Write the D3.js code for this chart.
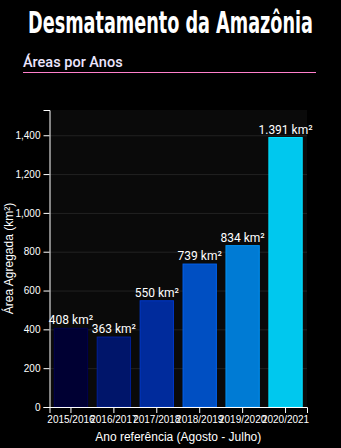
<!DOCTYPE html>
<html><head><meta charset="utf-8">
<script src="https://cdn.jsdelivr.net/npm/d3@7"></script>
<style>
html,body{margin:0;padding:0;background:#000;}
svg{display:block;}
</style></head>
<body>
<script>
const categories = ["2015/2016","2016/2017","2017/2018","2018/2019","2019/2020","2020/2021"];
const values = [408, 363, 550, 739, 834, 1391];
const fills = ["#000033","#00156a","#002b9c","#004fc2","#007bd4","#00c8ee"];
const strokes = ["#000050","#00209a","#0038c8","#0062f0","#0092f4","#00e0ff"];
const yTicks = [0,200,400,600,800,1000,1200,1400];

const W = 341, H = 448;
const m = {left: 49.5, right: 34, top: 110, bottom: 41};
const svg = d3.select("body").append("svg").attr("width", W).attr("height", H);
svg.append("rect").attr("width", W).attr("height", H).attr("fill", "#000");

svg.append("text").attr("x", 170.5).attr("y", 32.5).attr("text-anchor", "middle")
  .attr("font-family", "'Liberation Sans Narrow', 'DejaVu Sans Condensed', sans-serif")
  .attr("font-weight", "bold").attr("font-size", 31).attr("fill", "#fff")
  .attr("textLength", 285).attr("lengthAdjust", "spacingAndGlyphs")
  .text("Desmatamento da Amazônia");

svg.append("text").attr("x", 23).attr("y", 67)
  .attr("font-family", "Roboto, sans-serif").attr("font-weight", 500).attr("font-size", 14.5)
  .attr("fill", "#ece6ff").text("Áreas por Anos");
svg.append("line").attr("x1", 23).attr("x2", 316).attr("y1", 72.5).attr("y2", 72.5)
  .attr("stroke", "#ff80cc").attr("stroke-width", 1);

const x = d3.scaleBand().domain(categories).range([m.left, W - m.right]).paddingInner(0.2).paddingOuter(0.1);
const y = d3.scaleLinear().domain([0, d3.max(values) * 1.1]).range([H - m.bottom, m.top]);

svg.append("rect").attr("x", m.left).attr("y", m.top).attr("width", W - m.right - m.left)
  .attr("height", H - m.bottom - m.top).attr("fill", "#0a0a0a");

svg.append("g").selectAll("line").data(yTicks.slice(1)).join("line")
  .attr("x1", m.left).attr("x2", W - m.right).attr("y1", d => y(d) + 0.5).attr("y2", d => y(d) + 0.5)
  .attr("stroke", "#222").attr("stroke-width", 1);

svg.append("g").selectAll("rect").data(values).join("rect")
  .attr("x", (d, i) => x(categories[i]) + 0.5).attr("width", x.bandwidth() - 1)
  .attr("y", d => y(d) + 0.5).attr("height", d => y(0) - y(d) - 0.5)
  .attr("fill", (d, i) => fills[i]).attr("stroke", (d, i) => strokes[i]).attr("stroke-width", 1);

const fmt = d3.formatLocale({decimal: ",", thousands: ".", grouping: [3], currency: ["R$", ""]}).format(",");
svg.append("g").selectAll("text").data(values).join("text")
  .attr("x", (d, i) => x(categories[i]) + x.bandwidth() / 2).attr("y", d => y(d) - 3.5)
  .attr("text-anchor", "middle").attr("font-family", "Roboto, sans-serif").attr("font-size", 12)
  .attr("fill", "#fff").text(d => fmt(d) + " km²");

const gx = svg.append("g").attr("transform", `translate(0,${H - m.bottom})`)
  .call(d3.axisBottom(x).tickSizeOuter(6));
gx.selectAll("path,line").attr("stroke", "#fff");
gx.selectAll("text").attr("fill", "#fff").attr("font-family", "'Liberation Sans', Arial, sans-serif").attr("font-size", 10);

const gy = svg.append("g").attr("transform", `translate(${m.left},0)`)
  .call(d3.axisLeft(y).tickValues(yTicks).tickFormat(d3.format(",")));
gy.selectAll("path,line").attr("stroke", "#fff");
gy.selectAll("text").attr("fill", "#fff").attr("font-family", "'Liberation Sans', Arial, sans-serif").attr("font-size", 10);

svg.append("text").attr("transform", `translate(13,258.5) rotate(-90)`)
  .attr("text-anchor", "middle").attr("font-family", "'Liberation Sans', Arial, sans-serif").attr("font-size", 12)
  .attr("fill", "#fff").text("Área Agregada (km²)");

svg.append("text").attr("x", (m.left + W - m.right) / 2).attr("y", 441)
  .attr("text-anchor", "middle").attr("font-family", "'Liberation Sans', Arial, sans-serif").attr("font-size", 12)
  .attr("fill", "#fff").text("Ano referência (Agosto - Julho)");
</script>
</body></html>
